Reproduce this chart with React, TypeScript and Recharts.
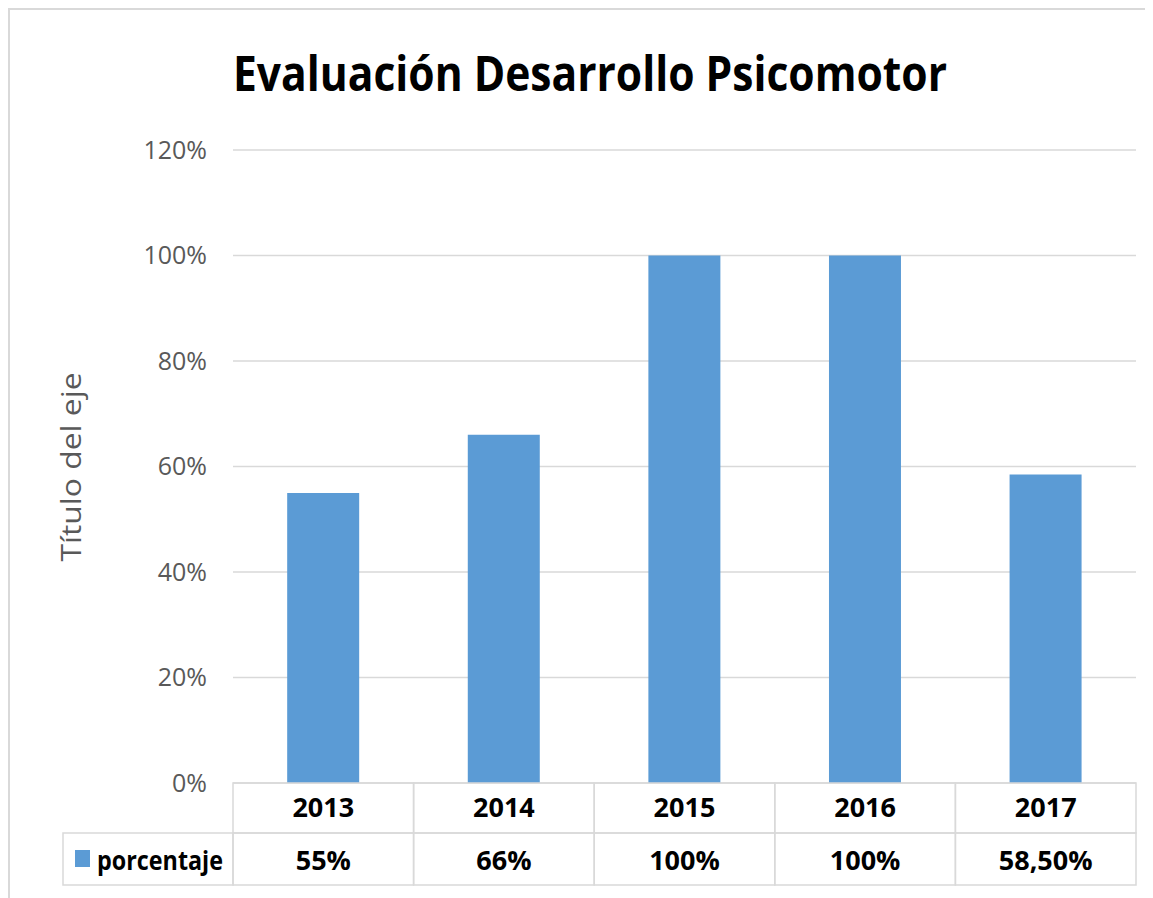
import React from "react";
import { BarChart, Bar, XAxis, YAxis, CartesianGrid, Customized } from "recharts";

const years = ["2013", "2014", "2015", "2016", "2017"];
const porcentaje = [0.55, 0.66, 1.0, 1.0, 0.585];
const valueLabels = ["55%", "66%", "100%", "100%", "58,50%"];
const yTicks = [0, 0.2, 0.4, 0.6, 0.8, 1.0, 1.2];

const SERIES_NAME = "porcentaje";
const BAR_COLOR = "#5b9bd5";
const BORDER = "#d9d9d9";
const FONT = "'Open Sans', 'Liberation Sans', sans-serif";

const data = years.map((y, i) => ({ year: y, porcentaje: porcentaje[i], label: valueLabels[i] }));

const HEADER_H = 50;
const ROW_H = 52;
const LEGEND_W = 170;

// draws one column of the data table under the bars
const TableTick = (props: any) => {
  const { x, y, payload, index } = props;
  const half = payload?.offset ?? 90.3;
  const left = x - half;
  const w = half * 2;
  const row = data[index] || data.find((d) => d.year === payload.value);
  return (
    <g>
      <rect x={left} y={y} width={w} height={HEADER_H} fill="none" stroke={BORDER} strokeWidth={1.5} />
      <rect x={left} y={y + HEADER_H} width={w} height={ROW_H} fill="none" stroke={BORDER} strokeWidth={1.5} />
      <text
        x={x}
        y={y + 34}
        textAnchor="middle"
        fontFamily={FONT}
        fontWeight={700}
        fontSize={27}
        fill="#000"
      >
        {payload.value}
      </text>
      <text
        x={x}
        y={y + HEADER_H + 37}
        textAnchor="middle"
        fontFamily={FONT}
        fontWeight={700}
        fontSize={27}
        fill="#000"
      >
        {row ? row.label : ""}
      </text>
      {index === 0 && (
        <g>
          <rect
            x={left - LEGEND_W}
            y={y + HEADER_H}
            width={LEGEND_W}
            height={ROW_H}
            fill="none"
            stroke={BORDER}
            strokeWidth={1.5}
          />
          <rect x={left - LEGEND_W + 12} y={y + HEADER_H + 17} width={15} height={17} fill={BAR_COLOR} />
          <text
            x={left - LEGEND_W + 34}
            y={y + HEADER_H + 37}
            fontFamily={FONT}
            fontWeight={700}
            fontSize={27}
            fill="#000"
            textLength={126}
            lengthAdjust="spacingAndGlyphs"
          >
            {SERIES_NAME}
          </text>
        </g>
      )}
    </g>
  );
};

const Titles = () => (
  <g>
    <text
      x={580}
      y={81}
      textAnchor="middle"
      fontFamily={FONT}
      fontWeight={700}
      fontSize={48}
      fill="#000"
      textLength={714}
      lengthAdjust="spacingAndGlyphs"
    >
      Evaluación Desarrollo Psicomotor
    </text>
    <text
      transform="translate(71,457) rotate(-90)"
      x={0}
      y={0}
      textAnchor="middle"
      fontFamily={FONT}
      fontSize={28}
      fill="#595959"
      textLength={189}
      lengthAdjust="spacingAndGlyphs"
    >
      Título del eje
    </text>
  </g>
);

export default function App() {
  return (
    <div
      style={{
        width: 1145,
        height: 890,
        borderTop: `2px solid ${BORDER}`,
        borderLeft: `2px solid ${BORDER}`,
        boxSizing: "border-box",
        background: "#fff",
      }}
    >
      <BarChart
        width={1143}
        height={888}
        data={data}
        margin={{ top: 140, right: 17, left: 0, bottom: 5 }}
        barCategoryGap="30%"
      >
        <CartesianGrid horizontal vertical={false} stroke={BORDER} strokeWidth={1.5} />
        <YAxis
          width={223}
          domain={[0, 1.2]}
          ticks={yTicks}
          tickFormatter={(v: number) => `${Math.round(v * 100)}%`}
          axisLine={false}
          tickLine={false}
          tickSize={0}
          tickMargin={26}
          tick={{ fill: "#595959", fontSize: 25, fontFamily: FONT }}
        />
        <XAxis
          dataKey="year"
          height={110}
          axisLine={false}
          tickLine={false}
          tickSize={0}
          tickMargin={0}
          interval={0}
          tick={<TableTick />}
        />
        <Bar dataKey="porcentaje" fill={BAR_COLOR} isAnimationActive={false} />
        <Customized component={Titles} />
      </BarChart>
    </div>
  );
}
